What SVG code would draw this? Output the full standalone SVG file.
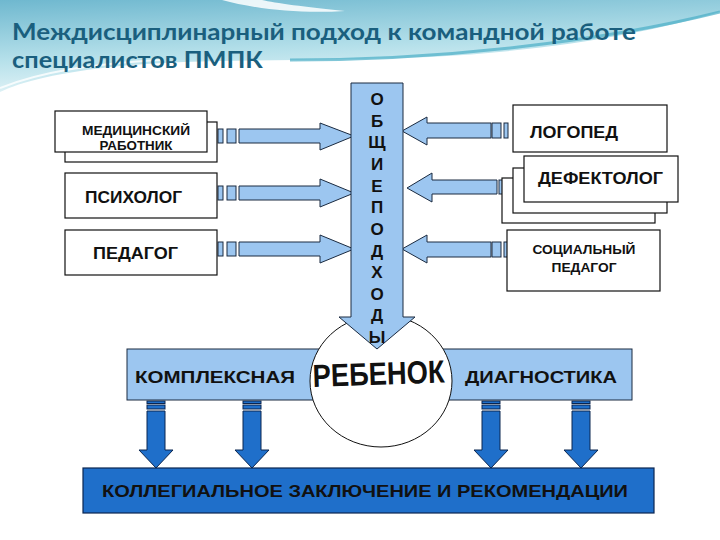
<svg xmlns="http://www.w3.org/2000/svg" width="720" height="540" viewBox="0 0 720 540">
<defs>
<linearGradient id="wave" x1="0" y1="0" x2="0.3" y2="1">
<stop offset="0" stop-color="#6fb8cf"/>
<stop offset="0.6" stop-color="#b5e0ea"/>
<stop offset="1" stop-color="#e6f5f8"/>
</linearGradient>
<style>
.box{fill:#ffffff;stroke:#111;stroke-width:1.2}
.lb{font-family:"Liberation Sans",Arial,sans-serif;font-weight:bold;fill:#111}
.la{fill:#9cc6f0;stroke:#1a2a40;stroke-width:1}
.da{fill:#1f6fca;stroke:#0b2650;stroke-width:1}
.title{font-family:Lato,"Liberation Sans",sans-serif;font-weight:bold;font-size:22px;fill:#1a5f7e}
.vl{font-family:"Liberation Sans",Arial,sans-serif;font-weight:bold;font-size:17px;fill:#111;text-anchor:middle}
</style>
</defs>
<rect x="0" y="0" width="720" height="540" fill="#ffffff"/>
<g id="background">
<path d="M0,0 H720 V12 C650,32 560,50 430,57 C310,62 200,58 120,66 C60,72 20,82 0,92 Z" fill="url(#wave)"/>
<path d="M222,0 C255,9 300,14 345,11 C305,7 275,3 262,0 Z" fill="#ffffff" opacity="0.85"/>
<path d="M290,60 C440,60 600,42 720,12" fill="none" stroke="#4aaec6" stroke-width="3" opacity="0.7"/>
<path d="M0,88 C40,72 90,64 160,60" fill="none" stroke="#ffffff" stroke-width="2" opacity="0.8"/>
</g>
<g id="title">
<text class="title" x="12" y="40" textLength="624" lengthAdjust="spacingAndGlyphs">Междисциплинарный подход к командной работе</text>
<text class="title" x="12" y="68" textLength="251" lengthAdjust="spacingAndGlyphs">специалистов ПМПК</text>
</g>
<g id="connectors">
<g>
<rect class="la" x="218" y="129" width="5" height="14"/>
<rect class="la" x="227" y="129" width="9" height="14"/>
<polygon class="la" points="239,129 320,129 320,123 354,136 320,150 320,143 239,143"/>
</g>
<g>
<rect class="la" x="218" y="186" width="5" height="14"/>
<rect class="la" x="227" y="186" width="9" height="14"/>
<polygon class="la" points="239,186 320,186 320,179 354,193 320,207 320,200 239,200"/>
</g>
<g>
<rect class="la" x="218" y="242" width="5" height="14"/>
<rect class="la" x="227" y="242" width="9" height="14"/>
<polygon class="la" points="239,242 320,242 320,235 354,249 320,263 320,256 239,256"/>
</g>
<g>
<rect class="la" x="492" y="123" width="9" height="15"/>
<rect class="la" x="504" y="123" width="4" height="15"/>
<polygon class="la" points="491,123 427,123 427,117 402,131 427,145 427,138 491,138"/>
</g>
<g>
<rect class="la" x="499" y="180" width="8" height="14"/>
<rect class="la" x="509" y="180" width="4" height="14"/>
<polygon class="la" points="497,180 432,180 432,173 407,188 432,202 432,194 497,194"/>
</g>
<g>
<rect class="la" x="492" y="242" width="9" height="15"/>
<rect class="la" x="504" y="242" width="4" height="15"/>
<polygon class="la" points="491,242 427,242 427,235 402,249 427,263 427,257 491,257"/>
</g>
<g>
<rect class="da" x="147" y="401" width="18" height="2.5"/>
<rect class="da" x="147" y="405" width="18" height="4"/>
<polygon class="da" points="147,411 165,411 165,450 173,450 156,468 139,450 147,450"/>
</g>
<g>
<rect class="da" x="243" y="401" width="18" height="2.5"/>
<rect class="da" x="243" y="405" width="18" height="4"/>
<polygon class="da" points="243,411 261,411 261,450 269,450 252,468 235,450 243,450"/>
</g>
<g>
<rect class="da" x="482" y="401" width="18" height="2.5"/>
<rect class="da" x="482" y="405" width="18" height="4"/>
<polygon class="da" points="482,411 500,411 500,450 508,450 491,468 474,450 482,450"/>
</g>
<g>
<rect class="da" x="572" y="401" width="18" height="2.5"/>
<rect class="da" x="572" y="405" width="18" height="4"/>
<polygon class="da" points="572,411 590,411 590,450 598,450 581,468 564,450 572,450"/>
</g>
</g>
<g id="node-med">
<rect class="box" x="65" y="122" width="152" height="40"/>
<rect class="box" x="55" y="111" width="152" height="41"/>
<text class="lb" x="136" y="135" font-size="13" text-anchor="middle" textLength="108" lengthAdjust="spacingAndGlyphs">МЕДИЦИНСКИЙ</text>
<text class="lb" x="136" y="150" font-size="13" text-anchor="middle" textLength="73" lengthAdjust="spacingAndGlyphs">РАБОТНИК</text>
</g>
<g id="node-psych">
<rect class="box" x="65" y="173" width="152" height="45"/>
<text class="lb" x="85" y="203" font-size="16" textLength="97" lengthAdjust="spacingAndGlyphs">ПСИХОЛОГ</text>
</g>
<g id="node-ped">
<rect class="box" x="65" y="230" width="152" height="45"/>
<text class="lb" x="93" y="259" font-size="16" textLength="85" lengthAdjust="spacingAndGlyphs">ПЕДАГОГ</text>
</g>
<g id="node-logo">
<rect class="box" x="513" y="105" width="154" height="47"/>
<text class="lb" x="530" y="138" font-size="16" textLength="88" lengthAdjust="spacingAndGlyphs">ЛОГОПЕД</text>
</g>
<g id="node-defect">
<rect class="box" x="502" y="178" width="153" height="45" stroke="#555"/>
<rect class="box" x="513" y="168" width="154" height="45" stroke="#444"/>
<rect class="box" x="524" y="156" width="154" height="46"/>
<text class="lb" x="538" y="184" font-size="16" textLength="125" lengthAdjust="spacingAndGlyphs">ДЕФЕКТОЛОГ</text>
</g>
<g id="node-social">
<rect class="box" x="507" y="230" width="153" height="61"/>
<text class="lb" x="584" y="254" font-size="13" text-anchor="middle" textLength="103" lengthAdjust="spacingAndGlyphs">СОЦИАЛЬНЫЙ</text>
<text class="lb" x="584" y="272" font-size="13" text-anchor="middle" textLength="65" lengthAdjust="spacingAndGlyphs">ПЕДАГОГ</text>
</g>
<g id="node-diag">
<rect x="127" y="349" width="505" height="51" fill="#9cc6f0" stroke="#1a2a40" stroke-width="1"/>
<text class="lb" x="135" y="383" font-size="16" textLength="160" lengthAdjust="spacingAndGlyphs" fill="#0d1a30">КОМПЛЕКСНАЯ</text>
<text class="lb" x="465" y="383" font-size="16" textLength="152" lengthAdjust="spacingAndGlyphs" fill="#0d1a30">ДИАГНОСТИКА</text>
</g>
<g id="node-child">
<ellipse cx="381" cy="381" rx="71" ry="66" fill="#ffffff" stroke="#111" stroke-width="1"/>
<text class="lb" x="313" y="387" font-size="32" textLength="132" lengthAdjust="spacingAndGlyphs" transform="rotate(-2 313 387)">РЕБЕНОК</text>
</g>
<g id="node-common">
<polygon class="la" points="351,83 403,83 403,317 415,317 377,349 339,317 351,317"/>
<text class="vl" x="377" y="105">О</text>
<text class="vl" x="377" y="126.6">Б</text>
<text class="vl" x="377" y="148.3">Щ</text>
<text class="vl" x="377" y="169.9">И</text>
<text class="vl" x="377" y="191.6">Е</text>
<text class="vl" x="377" y="213.2">П</text>
<text class="vl" x="377" y="234.8">О</text>
<text class="vl" x="377" y="256.5">Д</text>
<text class="vl" x="377" y="278.1">Х</text>
<text class="vl" x="377" y="299.8">О</text>
<text class="vl" x="377" y="321.4">Д</text>
<text class="vl" x="377" y="343">Ы</text>
</g>
<g id="node-result">
<rect x="83" y="468" width="571" height="45" fill="#1f6fca" stroke="#0b2650" stroke-width="1.2"/>
<text class="lb" x="102" y="497" font-size="17" textLength="526" lengthAdjust="spacingAndGlyphs" fill="#0a0f20">КОЛЛЕГИАЛЬНОЕ ЗАКЛЮЧЕНИЕ И РЕКОМЕНДАЦИИ</text>
</g>
</svg>
